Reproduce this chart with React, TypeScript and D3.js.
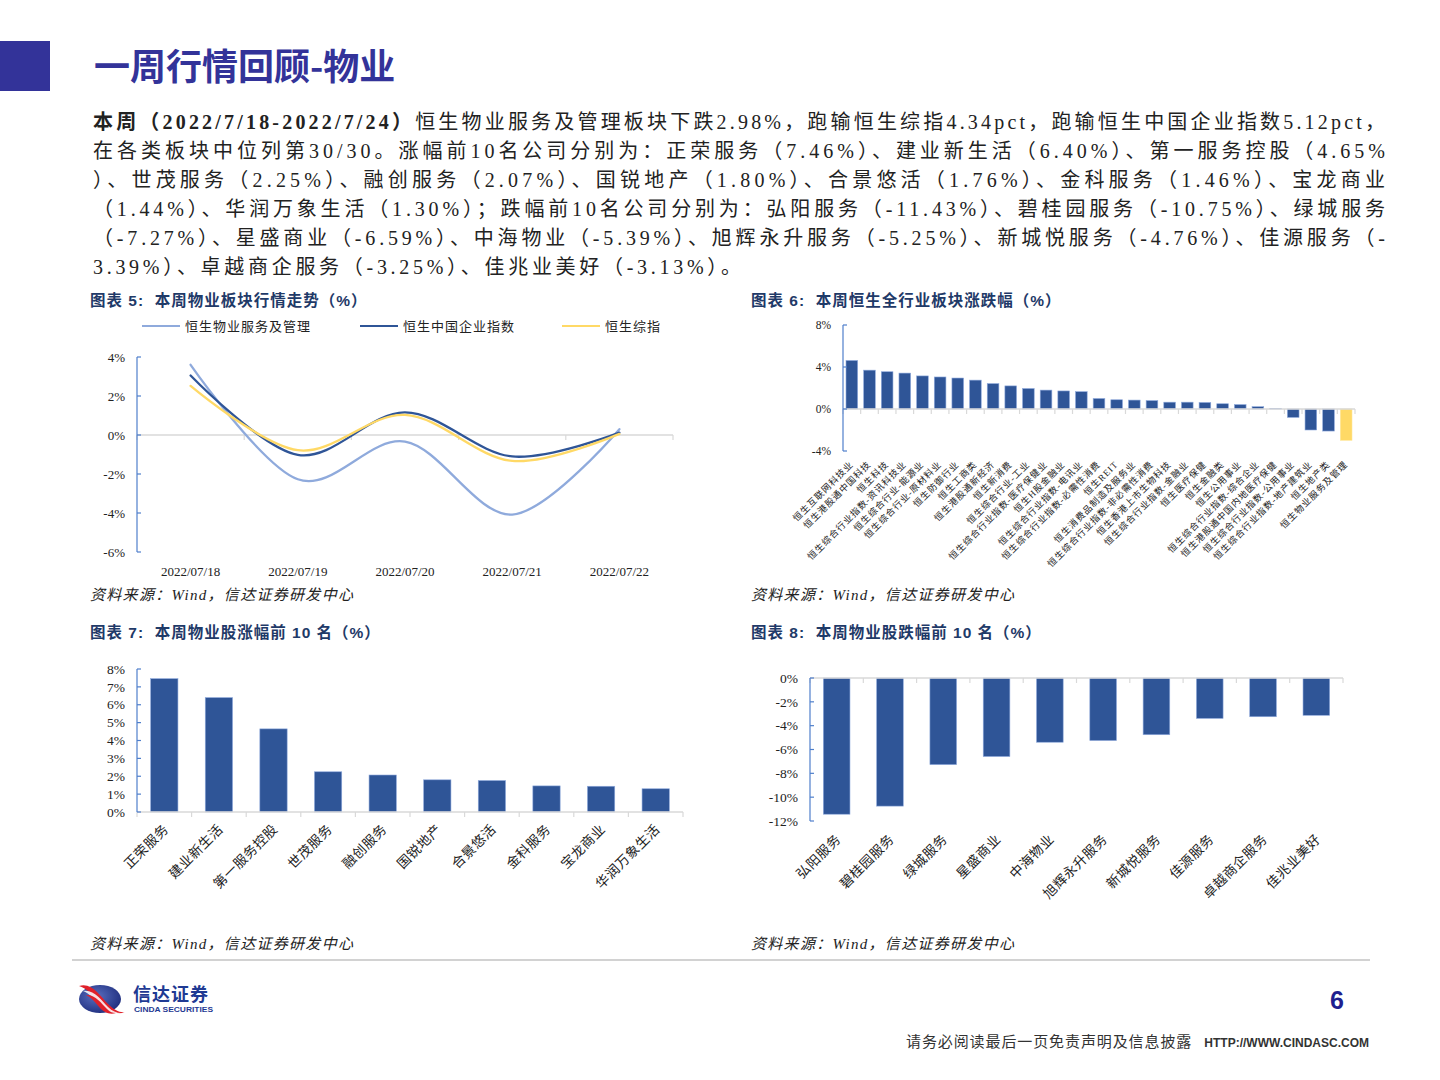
import React from 'react';
import * as d3 from 'd3';

// ---------- data ----------
const pageTitle = '一周行情回顾-物业';
const paraBold = '本周（2022/7/18-2022/7/24）';
const paraLine1Rest = '恒生物业服务及管理板块下跌2.98%，跑输恒生综指4.34pct，跑输恒生中国企业指数5.12pct，';
const paraLines = [
  '在各类板块中位列第30/30。涨幅前10名公司分别为：正荣服务（7.46%）、建业新生活（6.40%）、第一服务控股（4.65%',
  '）、世茂服务（2.25%）、融创服务（2.07%）、国锐地产（1.80%）、合景悠活（1.76%）、金科服务（1.46%）、宝龙商业',
  '（1.44%）、华润万象生活（1.30%）；跌幅前10名公司分别为：弘阳服务（-11.43%）、碧桂园服务（-10.75%）、绿城服务',
  '（-7.27%）、星盛商业（-6.59%）、中海物业（-5.39%）、旭辉永升服务（-5.25%）、新城悦服务（-4.76%）、佳源服务（-',
  '3.39%）、卓越商企服务（-3.25%）、佳兆业美好（-3.13%）。',
];

const chartTitles = [
  '图表 5:  本周物业板块行情走势（%）',
  '图表 6:  本周恒生全行业板块涨跌幅（%）',
  '图表 7:  本周物业股涨幅前 10 名（%）',
  '图表 8:  本周物业股跌幅前 10 名（%）',
];
const sourceText = '资料来源：Wind，信达证券研发中心';

const trendDates = ['2022/07/18', '2022/07/19', '2022/07/20', '2022/07/21', '2022/07/22'];
const seriesNames = ['恒生物业服务及管理', '恒生中国企业指数', '恒生综指'];
const propertyIdx = [3.6, -2.27, -0.34, -4.08, 0.3];
const hsceiIdx = [3.05, -1.02, 1.16, -1.1, 0.12];
const hsciIdx = [2.52, -0.78, 1.03, -1.33, 0.06];
const trendTicks = [4, 2, 0, -2, -4, -6];

const industries = [
  '恒生互联网科技业', '恒生港股通中国科技', '恒生科技', '恒生综合行业指数-资讯科技业',
  '恒生综合行业-能源业', '恒生综合行业-原材料业', '恒生防御行业', '恒生工商类',
  '恒生港股通新经济', '恒生新消费', '恒生综合行业-工业', '恒生综合行业指数-医疗保健业',
  '恒生H股金融业', '恒生综合行业指数-电讯业', '恒生综合行业指数-必需性消费', '恒生REIT',
  '恒生消费品制造及服务业', '恒生综合行业指数-非必需性消费', '恒生香港上市生物科技',
  '恒生综合行业指数-金融业', '恒生医疗保健', '恒生金融类', '恒生公用事业',
  '恒生综合行业指数-综合企业', '恒生港股通中国内地医疗保健', '恒生综合行业指数-公用事业',
  '恒生综合行业指数-地产建筑业', '恒生地产类', '恒生物业服务及管理',
];
const industryChg = [
  4.62, 3.7, 3.55, 3.42, 3.15, 3.05, 2.95, 2.75, 2.42, 2.2, 1.95, 1.8, 1.72, 1.65, 1.0,
  0.88, 0.85, 0.8, 0.65, 0.65, 0.62, 0.5, 0.42, 0.22, 0.03, -0.8, -2.0, -2.1, -2.98,
];
const industryTicks = [8, 4, 0, -4];
const highlightIndustry = '恒生物业服务及管理';

const topNames = ['正荣服务', '建业新生活', '第一服务控股', '世茂服务', '融创服务', '国锐地产', '合景悠活', '金科服务', '宝龙商业', '华润万象生活'];
const topChg = [7.46, 6.4, 4.65, 2.25, 2.07, 1.8, 1.76, 1.46, 1.44, 1.3];
const topTicks = [0, 1, 2, 3, 4, 5, 6, 7, 8];

const bottomNames = ['弘阳服务', '碧桂园服务', '绿城服务', '星盛商业', '中海物业', '旭辉永升服务', '新城悦服务', '佳源服务', '卓越商企服务', '佳兆业美好'];
const bottomChg = [-11.43, -10.75, -7.27, -6.59, -5.39, -5.25, -4.76, -3.39, -3.25, -3.13];
const bottomTicks = [0, -2, -4, -6, -8, -10, -12];

// ---------- styles ----------
const SERIF = "'Times New Roman','Liberation Serif','Noto Sans CJK SC',serif";
const SANS = "Arial,'Liberation Sans','Noto Sans CJK SC',sans-serif";
const BLUE = '#2F5597';
const LIGHT = '#8FAADC';
const YELLOW = '#FFD966';
const AXIS_BLUE = '#4F7FCB';
const GRID = '#D9D9D9';
const TITLE_BLUE = '#333399';
const CAP_BLUE = '#1F3A68';

const pct = (v: number) => `${v}%`;

function YAxis({ x, y, ticks, labelSize }: { x: number; y: d3.ScaleLinear<number, number>; ticks: number[]; labelSize: number }) {
  const [r0, r1] = y.range();
  return (
    <g>
      <line x1={x} x2={x} y1={Math.min(r0, r1)} y2={Math.max(r0, r1)} stroke={AXIS_BLUE} strokeWidth={1.2} />
      {ticks.map((t) => (
        <g key={t}>
          <line x1={x} x2={x + 4} y1={y(t)} y2={y(t)} stroke={AXIS_BLUE} strokeWidth={1.2} />
          <text x={x - 12} y={y(t)} dy="0.35em" textAnchor="end" fontFamily={SERIF} fontSize={labelSize} fill="#222">
            {pct(t)}
          </text>
        </g>
      ))}
    </g>
  );
}

function CatAxis({ x, y0, names }: { x: d3.ScaleBand<string>; y0: number; names: string[] }) {
  const [a, b] = x.range();
  const step = x.step();
  const bounds = d3.range(names.length + 1).map((i) => a + i * step);
  return (
    <g>
      <line x1={a} x2={b} y1={y0} y2={y0} stroke={GRID} strokeWidth={1.5} />
      {bounds.map((bx, i) => (
        <line key={i} x1={bx} x2={bx} y1={y0} y2={y0 + 5} stroke={GRID} strokeWidth={1.2} />
      ))}
    </g>
  );
}

function RotLabels({ x, names, yTop, size, dx, spacing }: { x: d3.ScaleBand<string>; names: string[]; yTop: number; size: number; dx: number; spacing: number }) {
  return (
    <g>
      {names.map((n) => {
        const cx = (x(n) as number) + x.bandwidth() / 2 + dx;
        return (
          <text
            key={n}
            transform={`translate(${cx},${yTop}) rotate(-45)`}
            textAnchor="end"
            fontFamily={SERIF}
            fontSize={size}
            letterSpacing={spacing}
            fill="#222"
          >
            {n}
          </text>
        );
      })}
    </g>
  );
}

function Logo() {
  return (
    <g>
      <defs>
        <radialGradient id="lg" cx="0.4" cy="0.4" r="0.7">
          <stop offset="0" stopColor="#5a6fc0" />
          <stop offset="1" stopColor="#1B2A7A" />
        </radialGradient>
      </defs>
      <ellipse cx={100} cy={999} rx={21} ry={14} fill="url(#lg)" />
      <path d="M79,986 C92,982 100,996 108,1004 C114,1010 120,1013 125,1012 C116,1016 106,1010 98,1001 C92,994 86,988 79,986 Z" fill="#E0202A" />
      <path d="M83,991 C94,989 101,1000 108,1007 C112,1011 117,1013 121,1013 C113,1016 106,1012 100,1006 C94,999 89,993 83,991 Z" fill="#ffffff" opacity={0.85} />
      <path d="M86,995 C95,994 101,1003 107,1009 C110,1012 113,1013 116,1013 C109,1015 104,1012 100,1008 C95,1002 91,997 86,995 Z" fill="#E0202A" />
      <text x={133} y={1001} fontFamily="'Noto Sans CJK SC',sans-serif" fontWeight={700} fontSize={18} fill="#1F3A93" letterSpacing={1}>信达证券</text>
      <text x={134} y={1011.5} fontFamily={SANS} fontWeight={700} fontSize={7.2} fill="#1F3A93" textLength={79} lengthAdjust="spacingAndGlyphs">CINDA SECURITIES</text>
    </g>
  );
}

export default function App() {
  // chart 5: line chart
  const x5 = d3.scaleBand<string>().domain(trendDates).range([137, 673]);
  const y5 = d3.scaleLinear().domain([-6, 4]).range([552, 357]);
  const line5 = d3
    .line<number>()
    .x((_, i) => (x5(trendDates[i]) as number) + x5.bandwidth() / 2)
    .y((v) => y5(v))
    .curve(d3.curveCardinal.tension(0));
  const trendSeries = [
    { name: seriesNames[0], data: propertyIdx, color: LIGHT, lx: 142 },
    { name: seriesNames[1], data: hsceiIdx, color: BLUE, lx: 360 },
    { name: seriesNames[2], data: hsciIdx, color: YELLOW, lx: 562 },
  ];

  // chart 6: industry bars
  const x6 = d3.scaleBand<string>().domain(industries).range([843, 1355]).paddingInner(0.34).paddingOuter(0.17);
  const y6 = d3.scaleLinear().domain([-4, 8]).range([451, 325]);

  // chart 7: top gainers
  const x7 = d3.scaleBand<string>().domain(topNames).range([137, 683]).paddingInner(0.5).paddingOuter(0.25);
  const y7 = d3.scaleLinear().domain([0, 8]).range([812, 669]);

  // chart 8: top losers
  const x8 = d3.scaleBand<string>().domain(bottomNames).range([810, 1343]).paddingInner(0.5).paddingOuter(0.25);
  const y8 = d3.scaleLinear().domain([-12, 0]).range([821, 678]);

  return (
    <svg width={1440} height={1080} style={{ position: 'absolute', left: 0, top: 0, background: '#fff' }}>
      <rect x={0} y={0} width={1440} height={1080} fill="#fff" />
      {/* header */}
      <rect x={0} y={41} width={50} height={50} fill={TITLE_BLUE} />
      <text x={94} y={80} fontFamily="'Noto Sans CJK SC',sans-serif" fontWeight={700} fontSize={36} fill={TITLE_BLUE}>
        {pageTitle}
      </text>

      {/* paragraph */}
      <g fontFamily={SERIF} fontSize={20} fill="#222">
        <text x={93} y={129} textLength={1292} lengthAdjust="spacing">
          <tspan fontWeight={700}>{paraBold}</tspan>
          <tspan>{paraLine1Rest}</tspan>
        </text>
        {paraLines.map((l, i) => (
          <text key={i} x={93} y={158 + i * 29} textLength={i < 4 ? 1292 : 648} lengthAdjust="spacing">
            {l}
          </text>
        ))}
      </g>

      {/* chart titles */}
      <g fontFamily={SANS} fontWeight={700} fontSize={15.5} letterSpacing={1} fill={CAP_BLUE}>
        <text x={90} y={306} xmlSpace="preserve">{chartTitles[0]}</text>
        <text x={751} y={306} xmlSpace="preserve">{chartTitles[1]}</text>
        <text x={90} y={638} xmlSpace="preserve">{chartTitles[2]}</text>
        <text x={751} y={638} xmlSpace="preserve">{chartTitles[3]}</text>
      </g>

      {/* sources */}
      <g fontFamily={SERIF} fontStyle="italic" fontSize={15} letterSpacing={1.3} fill="#222">
        <text x={90} y={600}>{sourceText}</text>
        <text x={751} y={600}>{sourceText}</text>
        <text x={90} y={949}>{sourceText}</text>
        <text x={751} y={949}>{sourceText}</text>
      </g>

      {/* ---- chart 5 ---- */}
      <g>
        {trendSeries.map((s) => (
          <g key={s.name}>
            <line x1={s.lx} x2={s.lx + 38} y1={326} y2={326} stroke={s.color} strokeWidth={2.2} />
            <text x={s.lx + 43} y={326} dy="0.35em" fontFamily={SERIF} fontSize={13} letterSpacing={1} fill="#222">
              {s.name}
            </text>
          </g>
        ))}
        <CatAxis x={x5} y0={y5(0)} names={trendDates} />
        <YAxis x={137} y={y5} ticks={trendTicks} labelSize={13} />
        {trendSeries.map((s) => (
          <path key={s.name} d={line5(s.data) as string} fill="none" stroke={s.color} strokeWidth={2.3} strokeLinecap="round" />
        ))}
        {trendDates.map((d) => (
          <text key={d} x={(x5(d) as number) + x5.bandwidth() / 2} y={571} dy="0.35em" textAnchor="middle" fontFamily={SERIF} fontSize={13} fill="#222">
            {d}
          </text>
        ))}
      </g>

      {/* ---- chart 6 ---- */}
      <g>
        {industries.map((n, i) => {
          const v = industryChg[i];
          return (
            <rect
              key={n}
              x={x6(n) as number}
              y={y6(Math.max(0, v))}
              width={x6.bandwidth()}
              height={Math.abs(y6(v) - y6(0))}
              fill={n === highlightIndustry ? YELLOW : BLUE}
              stroke={n === highlightIndustry ? '#FFE699' : '#8FAADC'}
              strokeWidth={0.6}
            />
          );
        })}
        <CatAxis x={x6} y0={y6(0)} names={industries} />
        <YAxis x={843} y={y6} ticks={industryTicks} labelSize={11.5} />
        <RotLabels x={x6} names={industries} yTop={465} size={9.2} dx={2} spacing={0.9} />
      </g>

      {/* ---- chart 7 ---- */}
      <g>
        {topNames.map((n, i) => (
          <rect key={n} x={x7(n) as number} y={y7(topChg[i])} width={x7.bandwidth()} height={y7(0) - y7(topChg[i])} fill={BLUE} stroke="#8FAADC" strokeWidth={0.6} />
        ))}
        <CatAxis x={x7} y0={y7(0)} names={topNames} />
        <YAxis x={137} y={y7} ticks={topTicks} labelSize={13.5} />
        <RotLabels x={x7} names={topNames} yTop={830} size={13.5} dx={5} spacing={0.5} />
      </g>

      {/* ---- chart 8 ---- */}
      <g>
        {bottomNames.map((n, i) => (
          <rect key={n} x={x8(n) as number} y={y8(0)} width={x8.bandwidth()} height={y8(bottomChg[i]) - y8(0)} fill={BLUE} stroke="#8FAADC" strokeWidth={0.6} />
        ))}
        <CatAxis x={x8} y0={y8(0)} names={bottomNames} />
        <YAxis x={810} y={y8} ticks={bottomTicks} labelSize={13.5} />
        <RotLabels x={x8} names={bottomNames} yTop={840} size={13.5} dx={5} spacing={0.5} />
      </g>

      {/* footer */}
      <line x1={72} x2={1370} y1={960} y2={960} stroke="#A6A6A6" strokeWidth={1.2} />
      <Logo />
      <text x={1337} y={1009} textAnchor="middle" fontFamily={SANS} fontWeight={700} fontSize={25} fill="#1F1F8F">6</text>
      <text x={906} y={1047} fontFamily="'Noto Sans CJK SC',sans-serif" fontSize={15} letterSpacing={0.9} fill="#333">请务必阅读最后一页免责声明及信息披露</text>
      <text x={1369} y={1047} textAnchor="end" fontFamily={SANS} fontWeight={700} fontSize={12} fill="#333">HTTP://WWW.CINDASC.COM</text>
    </svg>
  );
}
